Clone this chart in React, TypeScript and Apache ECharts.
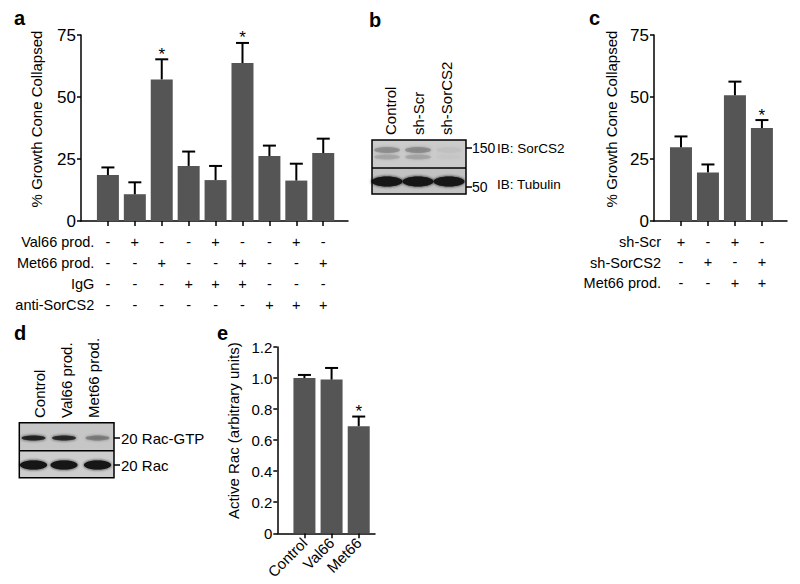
import React, { useEffect, useRef } from "react";
import * as echarts from "echarts";

const FONT = '"Liberation Sans", Arial, Helvetica, sans-serif';

// ---- Panel a ----
const rowNamesA = ["Val66 prod.", "Met66 prod.", "IgG", "anti-SorCS2"];
const val66A = ["-", "+", "-", "-", "+", "-", "-", "+", "-"];
const met66A = ["-", "-", "+", "-", "-", "+", "-", "-", "+"];
const iggA = ["-", "-", "-", "+", "+", "+", "-", "-", "-"];
const antiA = ["-", "-", "-", "-", "-", "-", "+", "+", "+"];
const valuesA = [18.5, 10.8, 57.1, 22.2, 16.5, 63.7, 26.2, 16.3, 27.4];
const errTopA = [21.6, 15.6, 65.2, 28.0, 22.2, 71.8, 30.4, 23.1, 33.2];
const starsA = [0, 0, 1, 0, 0, 1, 0, 0, 0];

// ---- Panel c ----
const rowNamesC = ["sh-Scr", "sh-SorCS2", "Met66 prod."];
const shScrC = ["+", "-", "+", "-"];
const shSorC = ["-", "+", "-", "+"];
const met66C = ["-", "-", "+", "+"];
const valuesC = [29.7, 19.6, 50.7, 37.5];
const errTopC = [34.1, 22.8, 56.2, 40.7];
const starsC = [0, 0, 0, 1];

// ---- Panel e ----
const categoriesE = ["Control", "Val66", "Met66"];
const valuesE = [1.0, 0.99, 0.69];
const errTopE = [1.02, 1.065, 0.752];
const starsE = [0, 0, 1];

// ---- Blots ----
const lanesB = ["Control", "sh-Scr", "sh-SorCS2"];
const sorcs2Intensity = [0.55, 0.6, 0.08];
const tubulinIntensity = [1, 1, 1];
const lanesD = ["Control", "Val66 prod.", "Met66 prod."];
const racGtpIntensity = [0.9, 0.85, 0.3];
const racIntensity = [1, 1, 1];

const colLabels = (rows: string[][]) =>
  rows[0].map((_, i) => rows.map((r) => r[i]).join("\n"));

const labelsA = colLabels([val66A, met66A, iggA, antiA]);
const labelsC = colLabels([shScrC, shSorC, met66C]);

const BAR = "#555555";

function errSeries(idx: number, vals: number[], tops: number[], stars: number[]) {
  return {
    type: "custom",
    xAxisIndex: idx,
    yAxisIndex: idx,
    silent: true,
    clip: false,
    z: 3,
    data: vals.map((v, i) => [i, v, tops[i], stars[i]]),
    encode: { x: 0, y: 1 },
    renderItem: (params: any, api: any) => {
      const x = api.value(0);
      const base = api.coord([x, api.value(1)]);
      const top = api.coord([x, api.value(2)]);
      const st = { stroke: "#000", lineWidth: 2 };
      const children: any[] = [
        { type: "line", shape: { x1: base[0], y1: base[1], x2: base[0], y2: top[1] }, style: st },
        { type: "line", shape: { x1: base[0] - 6.5, y1: top[1], x2: base[0] + 6.5, y2: top[1] }, style: st },
      ];
      if (api.value(3)) {
        children.push({
          type: "text",
          x: base[0],
          y: top[1] - 5,
          style: { text: "*", fontSize: 17, fontFamily: FONT, fill: "#000", align: "center", verticalAlign: "middle" },
        });
      }
      return { type: "group", children };
    },
  };
}

function barSeries(idx: number, vals: number[]) {
  return {
    type: "bar",
    xAxisIndex: idx,
    yAxisIndex: idx,
    barWidth: 22,
    silent: true,
    itemStyle: { color: BAR },
    data: vals.map((v, i) => [i, v]),
  };
}

const axisLineStyle = { color: "#000", width: 1.5 };

function xAxisFor(idx: number, max: number, labels: string[], lineHeight: number, extra: any = {}) {
  const vals = labels.map((_, i) => i);
  return {
    gridIndex: idx,
    type: "value",
    min: -1,
    max,
    axisLine: { show: true, onZero: false, lineStyle: axisLineStyle },
    axisTick: { show: true, customValues: vals, length: 5, lineStyle: axisLineStyle },
    axisLabel: {
      customValues: vals,
      formatter: (v: number) => labels[Math.round(v)] ?? "",
      fontSize: 14.5,
      lineHeight,
      margin: 10.5,
      color: "#000",
      fontFamily: FONT,
      ...extra,
    },
    splitLine: { show: false },
  };
}

function yAxisFor(idx: number, max: number, interval: number, name: string, nameGap: number, labelSize: number, fmt?: any, pad = 18) {
  return {
    gridIndex: idx,
    type: "value",
    min: 0,
    max,
    interval,
    axisLine: { show: true, onZero: false, lineStyle: axisLineStyle },
    axisTick: { show: true, length: 4, lineStyle: axisLineStyle },
    axisLabel: { fontSize: labelSize, margin: 5, color: "#000", fontFamily: FONT, formatter: fmt },
    splitLine: { show: false },
    name,
    nameLocation: "middle",
    nameGap,
    nameTextStyle: { fontSize: 15, color: "#000", fontFamily: FONT, padding: [0, 0, 0, pad] },
  };
}

function txt(text: string, x: number, y: number, style: any = {}) {
  return {
    type: "text",
    x,
    y,
    silent: true,
    style: { text, fontSize: 15, fontFamily: FONT, fill: "#000", align: "left", verticalAlign: "middle", ...style },
  };
}

function rotLabel(text: string, x: number, y: number) {
  return { ...txt(text, x, y), rotation: Math.PI / 2 };
}

function bands(cxs: number[], cy: number, rx: number, ry: number, intens: number[], color: string) {
  return cxs.map((cx, i) => ({
    type: "ellipse",
    silent: true,
    shape: { cx, cy, rx, ry },
    style: { fill: color, opacity: intens[i], shadowBlur: 3, shadowColor: color },
  }));
}

function buildGraphic() {
  const g: any[] = [];
  const letter = (t: string, x: number, y: number) => txt(t, x, y, { fontSize: 20, fontWeight: "bold" });
  g.push(letter("a", 14, 18), letter("b", 369, 20), letter("c", 589, 18), letter("d", 14, 333), letter("e", 217, 333));

  // row labels
  g.push(txt(rowNamesA.join("\n"), 94.3, 231.5, { align: "right", verticalAlign: "top", lineHeight: 21, fontSize: 14.5 }));
  g.push(txt(rowNamesC.join("\n"), 661, 231.75, { align: "right", verticalAlign: "top", lineHeight: 20.5, fontSize: 14.5 }));

  // ---- blot b ----
  const bx0 = 372, bx1 = 466, by0 = 140, bym = 168, by1 = 194;
  const laneXB = [387, 418, 449];
  g.push({ type: "rect", silent: true, shape: { x: bx0, y: by0, width: bx1 - bx0, height: bym - by0 }, style: { fill: "#cbcbcb" } });
  g.push(...bands(laneXB, 150, 13, 3, sorcs2Intensity, "#7a7a7a"));
  g.push(...bands(laneXB, 157, 13, 2.5, sorcs2Intensity.map((v) => v * 0.7), "#8a8a8a"));
  g.push({ type: "rect", silent: true, shape: { x: bx0, y: bym, width: bx1 - bx0, height: by1 - bym }, style: { fill: "#c2c2c2" } });
  g.push(...bands(laneXB, 181.5, 15.5, 5, tubulinIntensity, "#141414"));
  g.push({ type: "rect", silent: true, shape: { x: bx0, y: by0, width: bx1 - bx0, height: by1 - by0 }, style: { fill: "none", stroke: "#000", lineWidth: 1.5 } });
  g.push({ type: "line", silent: true, shape: { x1: bx0, y1: bym, x2: bx1, y2: bym }, style: { stroke: "#000", lineWidth: 1.5 } });
  g.push({ type: "line", silent: true, shape: { x1: bx1, y1: 148, x2: bx1 + 6, y2: 148 }, style: { stroke: "#000", lineWidth: 1.5 } });
  g.push({ type: "line", silent: true, shape: { x1: bx1, y1: 187, x2: bx1 + 6, y2: 187 }, style: { stroke: "#000", lineWidth: 1.5 } });
  g.push(txt("150", 472, 148, { fontSize: 14 }), txt("IB: SorCS2", 497, 148, { fontSize: 13.5 }));
  g.push(txt("50", 472, 187, { fontSize: 14 }), txt("IB: Tubulin", 497, 184, { fontSize: 13.5 }));
  [390, 418, 446].forEach((x, i) => g.push(rotLabel(lanesB[i], x, 135)));

  // ---- blot d ----
  const dx0 = 19.3, dx1 = 114, dy0 = 422.7, dym = 450.7, dy1 = 477.7;
  const laneXD = [33.5, 64, 97.5];
  g.push({ type: "rect", silent: true, shape: { x: dx0, y: dy0, width: dx1 - dx0, height: dym - dy0 }, style: { fill: "#c6c6c6" } });
  g.push(...bands(laneXD, 438, 12, 2.5, racGtpIntensity, "#1e1e1e"));
  g.push({ type: "rect", silent: true, shape: { x: dx0, y: dym, width: dx1 - dx0, height: dy1 - dym }, style: { fill: "#cdcdcd" } });
  g.push(...bands(laneXD, 465, 13.5, 4.5, racIntensity, "#121212"));
  g.push({ type: "rect", silent: true, shape: { x: dx0, y: dy0, width: dx1 - dx0, height: dy1 - dy0 }, style: { fill: "none", stroke: "#000", lineWidth: 1.5 } });
  g.push({ type: "line", silent: true, shape: { x1: dx0, y1: dym, x2: dx1, y2: dym }, style: { stroke: "#000", lineWidth: 1.5 } });
  g.push({ type: "line", silent: true, shape: { x1: dx1, y1: 438, x2: dx1 + 6, y2: 438 }, style: { stroke: "#000", lineWidth: 1.5 } });
  g.push({ type: "line", silent: true, shape: { x1: dx1, y1: 465, x2: dx1 + 6, y2: 465 }, style: { stroke: "#000", lineWidth: 1.5 } });
  g.push(txt("20 Rac-GTP", 121, 438), txt("20 Rac", 121, 465));
  [39, 66, 93].forEach((x, i) => g.push(rotLabel(lanesD[i], x, 418)));
  return g;
}

export default function App() {
  const ref = useRef<HTMLDivElement>(null);
  useEffect(() => {
    if (!ref.current) return;
    const chart = echarts.init(ref.current, undefined, { renderer: "svg" });
    const option: any = {
      animation: false,
      backgroundColor: "#ffffff",
      textStyle: { fontFamily: FONT },
      grid: [
        { left: 81, top: 35, width: 267, height: 186 },
        { left: 654, top: 35, width: 133, height: 186 },
        { left: 277.3, top: 347, width: 97.7, height: 186.3 },
      ],
      xAxis: [
        xAxisFor(0, 8.92, labelsA, 21),
        xAxisFor(1, 3.93, labelsC, 20.5),
        {
          ...xAxisFor(2, 2.6, categoriesE, 16, { rotate: 45, margin: 7, fontSize: 15 }),
        },
      ],
      yAxis: [
        yAxisFor(0, 75, 25, "% Growth Cone Collapsed", 37, 17),
        yAxisFor(1, 75, 25, "% Growth Cone Collapsed", 35, 17),
        yAxisFor(2, 1.2, 0.2, "Active Rac (arbitrary units)", 36, 15, (v: number) => (v === 0 ? "0" : v.toFixed(1)), 19),
      ],
      series: [
        barSeries(0, valuesA),
        errSeries(0, valuesA, errTopA, starsA),
        barSeries(1, valuesC),
        errSeries(1, valuesC, errTopC, starsC),
        barSeries(2, valuesE),
        errSeries(2, valuesE, errTopE, starsE),
      ],
      graphic: buildGraphic(),
    };
    chart.setOption(option);
    return () => chart.dispose();
  }, []);
  return <div ref={ref} style={{ position: "absolute", left: 0, top: 0, width: 800, height: 584 }} />;
}
